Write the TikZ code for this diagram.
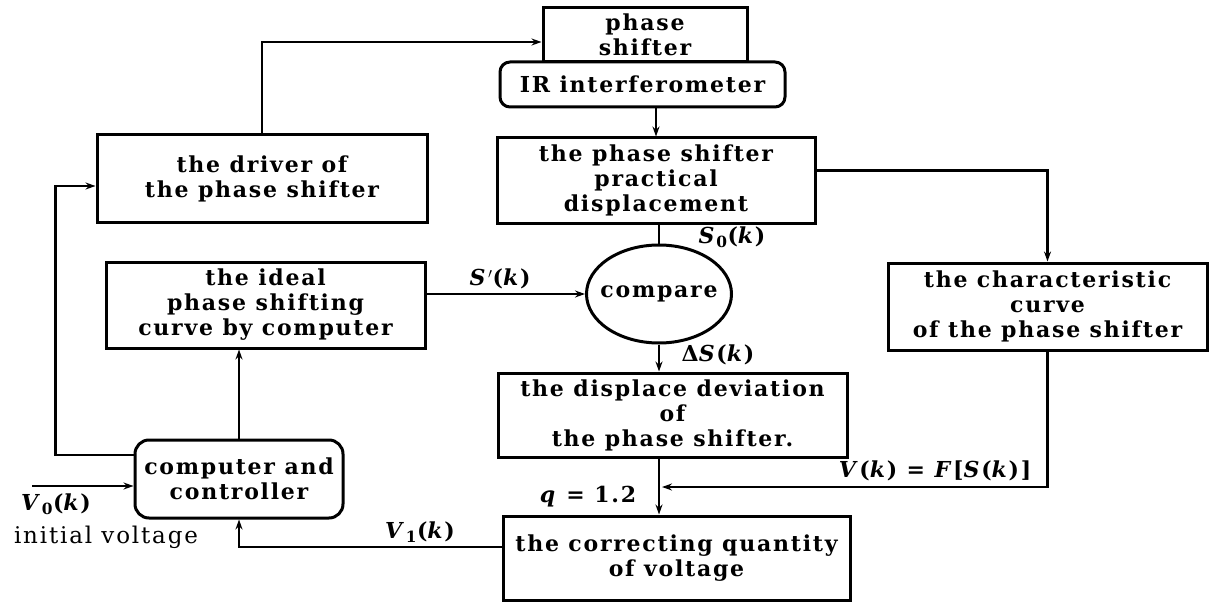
\documentclass[tikz,border=0pt]{standalone}
\usepackage{fontspec}
\setmainfont{DejaVu Serif}[LetterSpace=8]
\usetikzlibrary{arrows.meta,shapes.geometric,calc}
\newcommand{\vk}[1]{\textit{#1}}
\begin{document}
\begin{tikzpicture}[x=1pt,y=-1pt,
  every node/.style={font=\fontsize{22}{25}\selectfont\bfseries, align=center, inner sep=0pt},
  box/.style={draw, line width=3pt, rectangle},
  rbox/.style={draw, line width=3pt, rectangle, rounded corners=10pt},
  conn/.style={line width=2.6pt},
  arr/.style={conn, -{Stealth[length=10pt,width=7pt]}},
  lab/.style={font=\fontsize{22}{25}\selectfont\bfseries}]
\useasboundingbox (0,0) rectangle (1209,604);
% boxes
\node[box, minimum width=204pt, minimum height=54pt] (ps) at (645,35) {phase\\shifter};
\node[rbox, minimum width=285pt, minimum height=45pt] (ir) at (642.5,84.5) {IR interferometer};
\node[box, minimum width=318pt, minimum height=85pt] (pr) at (656,180.5) {the phase shifter\\practical\\displacement};
\node[box, minimum width=330pt, minimum height=87pt] (drv) at (262,178.5) {the driver of\\the phase shifter};
\node[box, minimum width=319pt, minimum height=86pt] (ideal) at (265.5,305) {the ideal\\phase shifting\\curve by computer};
\node[draw, line width=3pt, ellipse, inner xsep=-9pt, minimum width=145pt, minimum height=98pt] (cmp) at (659,294) {compare};
\node[box, minimum width=319pt, minimum height=87pt] (ch) at (1047.5,306.5) {the characteristic\\curve\\of the phase shifter};
\node[box, minimum width=349pt, minimum height=84pt] (dd) at (672.5,415) {the displace deviation\\of\\the phase shifter.};
\node[box, minimum width=347pt, minimum height=84pt] (cor) at (676.5,558) {the correcting quantity\\of voltage};
\node[rbox, minimum width=208pt, minimum height=78pt, rounded corners=14pt] (ctl) at (239,479) {computer and\\controller};
% coordinates
\coordinate (j) at (662,487);
\coordinate (v0) at (32,486);
% connectors
\draw[arr] (drv.north) |- ([yshift=-7pt]ps.west);
\draw[arr] (pr.north |- ir.south) -- (pr.north);
\draw[conn] (cmp.north |- pr.south) -- (cmp.north);
\draw[arr] (cmp.west -| ideal.east) -- (cmp.west);
\draw[arr] (cmp.south) -- (cmp.south |- dd.north);
\draw[arr] ([yshift=10pt]pr.east) -| (ch.north);
\draw[arr] (ch.south) |- (j);
\draw[arr] (dd.south -| cmp.south) -- (cor.north -| cmp.south);
\draw[arr] ([yshift=11pt]cor.west) -| (ctl.south);
\draw[arr] (ctl.north) -- (ctl.north |- ideal.south);
\draw[arr] ([yshift=24pt]ctl.west) -- ++(-78,0) |- ([yshift=-7.5pt]drv.west);
\draw[arr] (v0) -- (v0 -| ctl.west);
% labels
\node[lab] (ls0) at (732,237) {\vk{S}\textsubscript{0}(\vk{k})};
\node[lab] (lsp) at (500,279) {\vk{S}\kern1pt$'$(\vk{k})};
\node[lab] (lds) at (718,355) {Δ\vk{S}(\vk{k})};
\node[lab] (lvf) at (935,471) {\vk{V}(\vk{k}) = \vk{F}[\vk{S}(\vk{k})]};
\node[lab] (lq) at (588,497) {\vk{q} = 1.2};
\node[lab] (lv1) at (420,532) {\vk{V}\textsubscript{1}(\vk{k})};
\node[lab] (lv0) at (56,504) {\vk{V}\textsubscript{0}(\vk{k})};
\node[font=\fontsize{23}{25}\selectfont] (liv) at (106,537) {initial voltage};
\end{tikzpicture}
\end{document}
